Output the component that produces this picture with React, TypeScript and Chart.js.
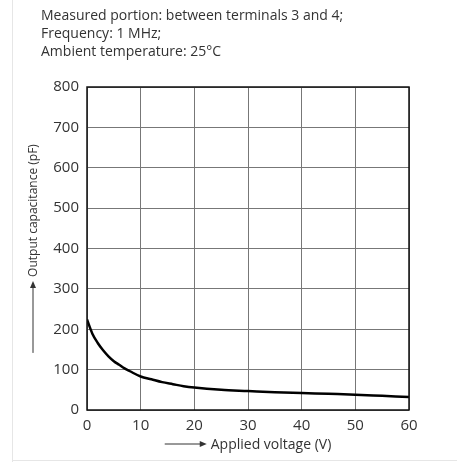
import React, { useEffect, useRef } from "react";
import { Chart, registerables } from "chart.js";

Chart.register(...registerables);

const voltage = [0, 1, 2, 3, 4, 5, 6, 7, 8, 10, 12, 14, 16, 18, 20, 25, 30, 35, 40, 45, 50, 55, 60];
const capacitance = [224, 189, 166, 148, 133, 121, 112, 103, 96, 83, 76, 69, 64, 59, 55.5, 50, 47, 44, 42, 40, 38, 35, 32];

const headerLines = [
  "Measured portion: between terminals 3 and 4;",
  "Frequency: 1 MHz;",
  "Ambient temperature: 25\u00B0C",
];
const xTitle = "Applied voltage (V)";
const yTitle = "Output capacitance (pF)";

const FONT = "'Open Sans', sans-serif";
const TEXT = "#333";

const decorPlugin = {
  id: "decor",
  afterDraw(chart: any) {
    const { ctx, chartArea } = chart;
    ctx.save();
    // frame
    ctx.strokeStyle = "#111";
    ctx.lineWidth = 1.5;
    ctx.strokeRect(chartArea.left, chartArea.top, chartArea.right - chartArea.left, chartArea.bottom - chartArea.top);

    ctx.fillStyle = TEXT;
    ctx.strokeStyle = TEXT;
    ctx.lineWidth = 1;
    ctx.textBaseline = "middle";
    ctx.textAlign = "left";

    // x title with arrow
    ctx.font = `14px ${FONT}`;
    const xw = ctx.measureText(xTitle).width;
    const xArrow = 42;
    const gap = 4;
    const xTotal = xArrow + gap + xw;
    const cx = (chartArea.left + chartArea.right) / 2;
    const xs = cx - xTotal / 2;
    const xy = chartArea.bottom + 34;
    ctx.beginPath();
    ctx.moveTo(xs, xy);
    ctx.lineTo(xs + xArrow - 5, xy);
    ctx.stroke();
    ctx.beginPath();
    ctx.moveTo(xs + xArrow, xy);
    ctx.lineTo(xs + xArrow - 7, xy - 3);
    ctx.lineTo(xs + xArrow - 7, xy + 3);
    ctx.closePath();
    ctx.fill();
    ctx.fillText(xTitle, xs + xArrow + gap, xy + 1);

    // y title with arrow
    ctx.font = `12px ${FONT}`;
    const yw = ctx.measureText(yTitle).width;
    const yArrow = 72;
    const yTotal = yArrow + gap + yw;
    const cy = (chartArea.top + chartArea.bottom) / 2;
    ctx.translate(33, cy);
    ctx.rotate(-Math.PI / 2);
    const ys = -yTotal / 2;
    ctx.beginPath();
    ctx.moveTo(ys, 0);
    ctx.lineTo(ys + yArrow - 5, 0);
    ctx.stroke();
    ctx.beginPath();
    ctx.moveTo(ys + yArrow, 0);
    ctx.lineTo(ys + yArrow - 7, -3);
    ctx.lineTo(ys + yArrow - 7, 3);
    ctx.closePath();
    ctx.fill();
    ctx.fillText(yTitle, ys + yArrow + gap, 1);
    ctx.restore();
  },
};

export default function App() {
  const ref = useRef<HTMLCanvasElement | null>(null);

  useEffect(() => {
    if (!ref.current) return;
    const chart = new Chart(ref.current, {
      type: "line",
      data: {
        datasets: [
          {
            data: voltage.map((v, i) => ({ x: v, y: capacitance[i] })),
            borderColor: "#000",
            borderWidth: 2.5,
            pointRadius: 0,
            cubicInterpolationMode: "monotone",
            fill: false,
          },
        ],
      },
      options: {
        animation: false,
        responsive: false,
        devicePixelRatio: 1,
        layout: { padding: { left: 0, top: 87, right: 48, bottom: 0 } },
        plugins: { legend: { display: false }, tooltip: { enabled: false }, title: { display: false } },
        scales: {
          x: {
            type: "linear",
            min: 0,
            max: 60,
            afterFit: (s: any) => {
              s.height = 52;
            },
            ticks: { stepSize: 10, padding: 7, color: TEXT, font: { family: FONT, size: 15 }, maxRotation: 0 },
            grid: { color: "#777", lineWidth: 1, drawTicks: false },
            border: { display: false },
          },
          y: {
            min: 0,
            max: 800,
            afterFit: (s: any) => {
              s.width = 87;
            },
            ticks: { stepSize: 100, padding: 8, color: TEXT, font: { family: FONT, size: 15 } },
            grid: { color: "#777", lineWidth: 1, drawTicks: false },
            border: { display: false },
          },
        },
      },
      plugins: [decorPlugin],
    } as any);
    return () => chart.destroy();
  }, []);

  return (
    <div style={{ position: "fixed", left: 0, top: 0, width: 457, height: 462, background: "#fff" }}>
      <div style={{ position: "absolute", left: 12, top: 0, width: 1, height: 462, background: "#e6e6e6" }} />
      <div style={{ position: "absolute", left: 12, top: 460, width: 445, height: 1, background: "#e6e6e6" }} />
      <canvas ref={ref} width={457} height={462} style={{ position: "absolute", left: 0, top: 0, width: 457, height: 462 }} />
      <div
        style={{
          position: "absolute",
          left: 41,
          top: 6,
          fontFamily: FONT,
          fontSize: 14,
          lineHeight: "18px",
          color: TEXT,
          whiteSpace: "nowrap",
        }}
      >
        {headerLines.map((l) => (
          <div key={l}>{l}</div>
        ))}
      </div>
    </div>
  );
}
